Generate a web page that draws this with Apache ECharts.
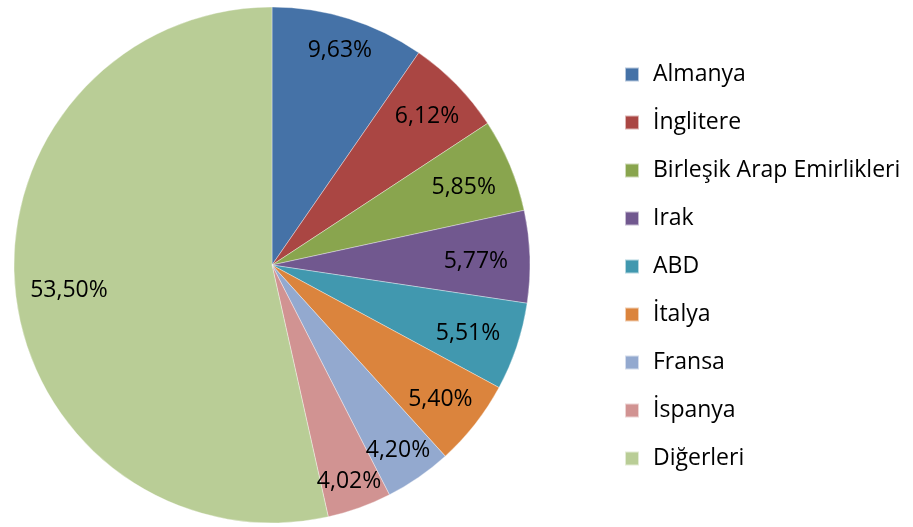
<!DOCTYPE html>
<html>
<head>
<meta charset="utf-8">
<script src="https://cdn.jsdelivr.net/npm/echarts@6/dist/echarts.min.js"></script>
<style>
html,body{margin:0;padding:0;background:#fff;}
#chart{width:913px;height:527px;}
</style>
</head>
<body>
<div id="chart"></div>
<script>
// ülkeler ve payları (%)
var countries = ['Almanya', 'İnglitere', 'Birleşik Arap Emirlikleri', 'Irak', 'ABD', 'İtalya', 'Fransa', 'İspanya', 'Diğerleri'];
var shares = [9.63, 6.12, 5.85, 5.77, 5.51, 5.40, 4.20, 4.02, 53.50];
var colors = ['#4572A7', '#AA4643', '#89A54E', '#71588F', '#4198AF', '#DB843D', '#93A9CF', '#D19392', '#B9CD96'];

var FONT = '"Open Sans", "Liberation Sans", sans-serif';
var CX = 272, CY = 265, R = 258;

var pieData = [];
var total = 0;
for (var i = 0; i < countries.length; i++) {
	pieData.push({ value: shares[i], name: countries[i] });
	total += shares[i];
}

// dilim ortası açıları (üstten, saat yönünde)
var midAngles = [];
var acc = 0;
for (var j = 0; j < shares.length; j++) {
	midAngles.push((acc + shares[j] / 2) / total * Math.PI * 2);
	acc += shares[j];
}

var myChart = echarts.init(document.getElementById('chart'));

var option = {
	color: colors,
	animation: false,
	legend: {
		orient: 'vertical',
		left: 619,
		top: 58,
		itemWidth: 14,
		itemHeight: 14,
		itemGap: 25,
		icon: 'rect',
		selectedMode: false,
		textStyle: { fontFamily: FONT, fontSize: 23, color: '#000', padding: [0, 0, 0, 9] },
		data: countries
	},
	series: [
		{
			name: 'pay',
			type: 'pie',
			center: [CX, CY],
			radius: [0, R],
			startAngle: 90,
			clockwise: true,
			label: {
				show: true,
				position: 'inside',
				fontFamily: FONT,
				fontSize: 23,
				color: '#000',
				formatter: function (p) {
					return p.value.toFixed(2).replace('.', ',') + '%';
				}
			},
			// etiketi dilimin dış kenarına yakın koy (Excel gibi)
			labelLayout: function (p) {
				var a = midAngles[p.dataIndex];
				var c = Math.cos(a);
				var d = 204 + 26 * c * c;
				return {
					x: CX + d * Math.sin(a),
					y: CY - d * c + 3,
					align: 'center',
					verticalAlign: 'middle'
				};
			},
			labelLine: { show: false },
			itemStyle: { borderColor: 'rgba(255,255,255,0.6)', borderWidth: 0.6 },
			emphasis: { disabled: true },
			data: pieData
		}
	]
};

myChart.setOption(option);
</script>
</body>
</html>
